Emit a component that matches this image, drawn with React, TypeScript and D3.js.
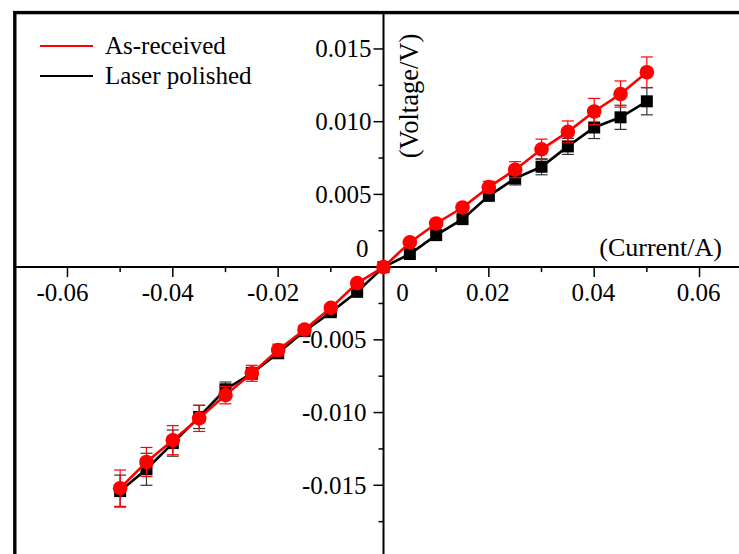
import { scaleLinear, line } from 'd3';

const WIDTH = 739;
const HEIGHT = 554;
const RED = '#ff0000';
const BLACK = '#000000';
const FONT = '"Liberation Serif", "Times New Roman", serif';

// current (A)
const currents = [
  -0.05, -0.045, -0.04, -0.035, -0.03, -0.025, -0.02, -0.015, -0.01, -0.005, 0,
  0.005, 0.01, 0.015, 0.02, 0.025, 0.03, 0.035, 0.04, 0.045, 0.05,
];

// As-received voltage (V) and error
const asReceived = [
  -0.0152, -0.0134, -0.0119, -0.0104, -0.0088, -0.0073, -0.0057, -0.0043, -0.0028, -0.0011, 0,
  0.0017, 0.003, 0.0041, 0.0055, 0.0067, 0.0081, 0.0093, 0.0107, 0.0119, 0.0134,
];
const asReceivedErr = [
  0.00125, 0.001, 0.001, 0.0009, 0.0006, 0.00055, 0.0004, 0.0002, 0.0002, 0.0001, 0,
  0.0001, 0.0002, 0.0002, 0.0004, 0.00055, 0.0007, 0.00075, 0.0009, 0.0009, 0.00105,
];

// Laser polished voltage (V) and error
const laserPolished = [
  -0.0154, -0.0139, -0.0121, -0.0103, -0.0084, -0.0073, -0.0059, -0.0044, -0.0031, -0.0017, 0,
  0.0009, 0.0022, 0.0033, 0.0049, 0.0061, 0.0069, 0.0083, 0.0096, 0.0103, 0.0114,
];
const laserPolishedErr = [
  0.0011, 0.0011, 0.0009, 0.0008, 0.0005, 0.0004, 0.0004, 0.0002, 0.0002, 0.0001, 0,
  0.0002, 0.0002, 0.0002, 0.0003, 0.00045, 0.00055, 0.00055, 0.00076, 0.00083, 0.00093,
];

const xMajor = [-0.06, -0.04, -0.02, 0.02, 0.04, 0.06];
const xMinor = [-0.07, -0.05, -0.03, -0.01, 0.01, 0.03, 0.05, 0.07];
const yMajor = [-0.015, -0.01, -0.005, 0.005, 0.01, 0.015];
const yMinor = [-0.0175, -0.0125, -0.0075, -0.0025, 0.0025, 0.0075, 0.0125, 0.0175];

const xLabel = (v: number) => (v < 0 ? '-' : '') + Math.abs(v).toFixed(2);
const yLabel = (v: number) => (v < 0 ? '-' : '') + Math.abs(v).toFixed(3);

const x = scaleLinear().domain([-0.07, 0.07]).range([14.8, 752.2]);
const y = scaleLinear().domain([-0.02, 0.0175]).range([558, 12.6]);

type Pt = [number, number];

function Series({ values, errors, color, errColor, marker }: {
  values: number[]; errors: number[]; color: string; errColor: string; marker: 'circle' | 'square';
}) {
  const pts: Pt[] = currents.map((c, i) => [c, values[i]]);
  const path = line<Pt>().x(d => x(d[0])).y(d => y(d[1]))(pts) ?? '';
  return (
    <g>
      {pts.map((d, i) => {
        const cx = x(d[0]);
        const top = y(d[1] + errors[i]);
        const bot = y(d[1] - errors[i]);
        return (
          <g key={i} stroke={errColor} strokeWidth={1.2}>
            <line x1={cx} x2={cx} y1={top} y2={bot} />
            <line x1={cx - 6} x2={cx + 6} y1={top} y2={top} />
            <line x1={cx - 6} x2={cx + 6} y1={bot} y2={bot} />
          </g>
        );
      })}
      <path d={path} fill="none" stroke={color} strokeWidth={2.6} />
      {pts.map((d, i) =>
        marker === 'circle' ? (
          <circle key={i} cx={x(d[0])} cy={y(d[1])} r={7.3} fill={color} />
        ) : (
          <rect key={i} x={x(d[0]) - 6} y={y(d[1]) - 6} width={12} height={12} fill={color} />
        ),
      )}
    </g>
  );
}

export default function App() {
  const x0 = x(0);
  const y0 = y(0);
  return (
    <svg
      width={WIDTH}
      height={HEIGHT}
      style={{ position: 'absolute', left: 0, top: 0, display: 'block', background: '#fff' }}
      fontFamily={FONT}
    >
      {/* frame */}
      <rect x={x(-0.07)} y={y(0.0175)} width={WIDTH + 20} height={HEIGHT + 20} fill="none" stroke={BLACK} strokeWidth={3.4} />

      {/* axes */}
      <line x1={x(-0.07)} x2={WIDTH} y1={y0} y2={y0} stroke={BLACK} strokeWidth={2} />
      <line x1={x0} x2={x0} y1={y(0.0175)} y2={HEIGHT} stroke={BLACK} strokeWidth={2} />

      {/* x labels: digits centred on the tick, minus sign hangs to the left */}
      {xMajor.map(v => (
        <g key={v}>
          <line x1={x(v)} x2={x(v)} y1={y0} y2={y0 + 10} stroke={BLACK} strokeWidth={1.5} />
          <text x={x(v) + 21} y={y0 + 34} textAnchor="end" fontSize={25}>{xLabel(v)}</text>
        </g>
      ))}
      {xMinor.map(v => (
        <line key={v} x1={x(v)} x2={x(v)} y1={y0} y2={y0 + 5} stroke={BLACK} strokeWidth={1.5} />
      ))}
      <text x={x0 + 19} y={y0 + 34} textAnchor="middle" fontSize={25}>0</text>

      {yMajor.map(v => (
        <g key={v}>
          <line x1={x0 - 10} x2={x0} y1={y(v)} y2={y(v)} stroke={BLACK} strokeWidth={1.5} />
          <text x={v < 0 ? x0 - 17 : x0 - 12} y={y(v) + 8.5} textAnchor="end" fontSize={25}>{yLabel(v)}</text>
        </g>
      ))}
      {yMinor.map(v => (
        <line key={v} x1={x0 - 5} x2={x0} y1={y(v)} y2={y(v)} stroke={BLACK} strokeWidth={1.5} />
      ))}
      <text x={x0 - 15} y={y0 - 10} textAnchor="end" fontSize={25}>0</text>

      {/* axis titles */}
      <text x={722} y={256} textAnchor="end" fontSize={26}>(Current/A)</text>
      <text transform="translate(418,96) rotate(-90)" textAnchor="middle" fontSize={26.5}>(Voltage/V)</text>

      <Series values={laserPolished} errors={laserPolishedErr} color={BLACK} errColor="#333" marker="square" />
      <Series values={asReceived} errors={asReceivedErr} color={RED} errColor={RED} marker="circle" />

      {/* legend */}
      <line x1={40} x2={93} y1={46} y2={46} stroke={RED} strokeWidth={2} />
      <text x={105} y={54} fontSize={25}>As-received</text>
      <line x1={40} x2={93} y1={76} y2={76} stroke={BLACK} strokeWidth={2} />
      <text x={105} y={84} fontSize={25}>Laser polished</text>
    </svg>
  );
}
